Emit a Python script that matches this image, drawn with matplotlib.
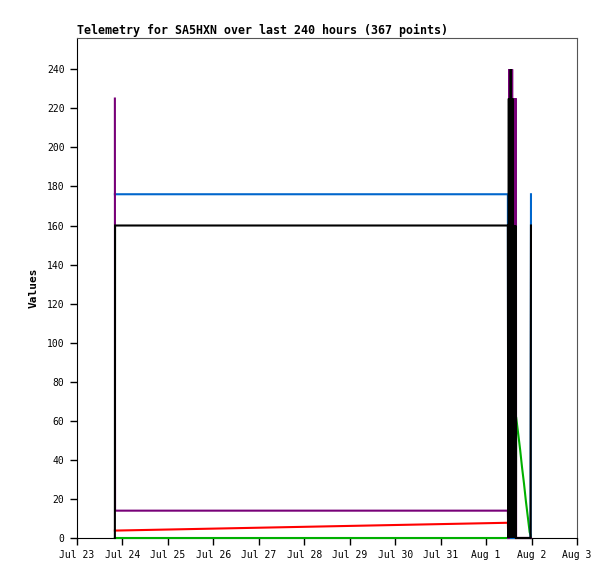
import pandas as pd
import matplotlib
matplotlib.use("Agg")
import matplotlib.pyplot as plt
import matplotlib.dates as mdates

# hours since Jul 23 00:00
hours = [20.0, 20.1, 227.5, 227.7,
         228.0, 228.25, 228.5, 228.75, 229.0, 229.25, 229.5, 229.75,
         230.0, 230.25, 230.5, 230.75, 231.0, 231.25, 231.5, 231.75, 231.85,
         233.0, 234.0, 235.0, 236.0, 237.0, 238.0, 239.0, 239.5, 239.7]

red = [3.8, 3.8, 7.8, 0,
       0, 0, 0, 0, 0, 0, 0, 0,
       0, 0, 0, 0, 0, 0, 0, 0, 0,
       0, 0, 0, 0, 0, 0, 0, 0, 0]
green = [0, 0, 0, 0,
         0, 0, 0, 0, 0, 0, 0, 0,
         0, 0, 0, 0, 0, 0, 0, 0, 62,
         53, 45, 36, 28, 19, 11, 3, 1.5, 0]
blue = [176, 176, 176, 0,
        0, 0, 0, 0, 0, 0, 0, 0,
        0, 0, 0, 0, 0, 0, 0, 0, 0,
        0, 0, 0, 0, 0, 0, 0, 0, 176]
purple = [225, 14, 14, 0,
          0, 240, 0, 240, 0, 240, 0, 240,
          0, 225, 0, 225, 0, 225, 0, 225, 0,
          0, 0, 0, 0, 0, 0, 0, 0, 0]
black = [0, 160, 160, 0,
         225, 0, 225, 0, 240, 0, 225, 0,
         225, 0, 160, 0, 160, 0, 160, 0, 0,
         0, 0, 0, 0, 0, 0, 0, 0, 160]

base = pd.Timestamp("2024-07-23")
t = base + pd.to_timedelta(hours, unit="h")

fig = plt.figure(figsize=(6.15, 5.79), dpi=100)
ax = fig.add_axes([77 / 615, 41 / 579, 500 / 615, 500 / 579])

lw = 1.5
for vals, col in [(red, "#ff0000"), (green, "#00b000"), (blue, "#0066cc"),
                  (purple, "#780078"), (black, "#000000")]:
    ax.plot(t, vals, color=col, lw=lw, solid_joinstyle="miter", zorder=3, clip_on=False)

ax.set_xlim(base, base + pd.Timedelta(days=11))
ax.set_ylim(0, 256)
ax.set_yticks(range(0, 241, 20))
ax.xaxis.set_major_locator(mdates.DayLocator())
ax.xaxis.set_major_formatter(mdates.DateFormatter("%b %-d"))

mono = "DejaVu Sans Mono"
ax.tick_params(direction="out", length=5, width=1, labelsize=7, pad=4)
for lab in ax.get_xticklabels() + ax.get_yticklabels():
    lab.set_fontfamily(mono)

for s in ["left", "bottom"]:
    ax.spines[s].set_color("black")
for s in ["top", "right"]:
    ax.spines[s].set_color("#555555")

ax.set_ylabel("Values", fontfamily=mono, fontweight="bold", fontsize=8, labelpad=6)
fig.text(77 / 615, 1 - 34 / 579, "Telemetry for SA5HXN over last 240 hours (367 points)",
         fontfamily=mono, fontweight="bold", fontsize=8.35, ha="left", va="baseline")

fig.savefig("out.png", dpi=100)
